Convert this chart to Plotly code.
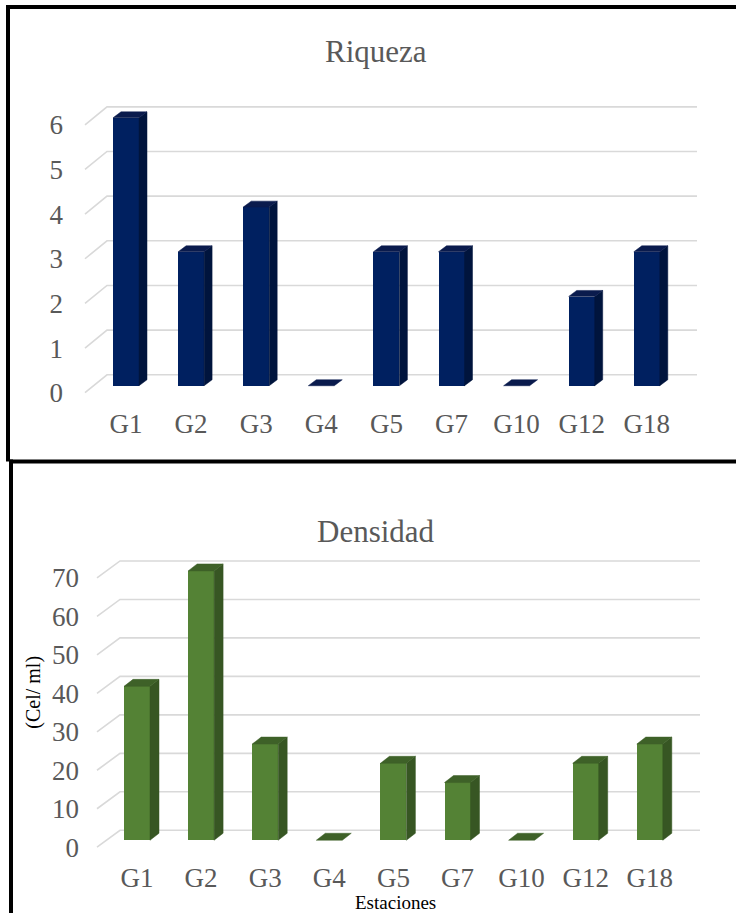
import plotly.graph_objects as go

categories = ["G1", "G2", "G3", "G4", "G5", "G7", "G10", "G12", "G18"]
riqueza = [6, 3, 4, 0, 3, 3, 0, 2, 3]
densidad = [40, 70, 25, 0, 20, 15, 0, 20, 25]
riqueza_ticks = [0, 1, 2, 3, 4, 5, 6]
densidad_ticks = [0, 10, 20, 30, 40, 50, 60, 70]

W, H = 736, 916
FONT = "Liberation Serif, Times New Roman, serif"
GREY = "#595959"

panels = [
    dict(values=riqueza, ticks=riqueza_ticks, xa="x", ya="y", xk="xaxis", yk="yaxis",
         x0=126, dxcat=65.1, y0=394, ppu=44.8, dom_x=(64, 736), dom_y=(80, 406),
         grid_left=85, grid_right=697, depth=(22, 18), bar_off=7, bar_w=26, topd=(8, 6),
         front="#002060", side="#00143d", topc="#0a1b4d"),
    dict(values=densidad, ticks=densidad_ticks, xa="x2", ya="y2", xk="xaxis2", yk="yaxis2",
         x0=137, dxcat=64.1, y0=850, ppu=3.86, dom_x=(80, 736), dom_y=(545, 862),
         grid_left=97, grid_right=700, depth=(23, 17), bar_off=7, bar_w=26, topd=(9, 7),
         front="#548235", side="#375623", topc="#3e6128"),
]

fig = go.Figure()
layout = {}
shapes = []

for p in panels:
    dxc, ppu = p["dxcat"], p["ppu"]
    # gridlines (floor diagonal + back wall), drawn below the traces
    fl = (p["grid_left"] - p["x0"]) / dxc
    bl = (p["grid_left"] + p["depth"][0] - p["x0"]) / dxc
    br = (p["grid_right"] - p["x0"]) / dxc
    ddy = p["depth"][1] / ppu
    for v in p["ticks"]:
        path = f"M {fl},{v} L {bl},{v + ddy} L {br},{v + ddy}"
        shapes.append(dict(type="path", path=path, xref=p["xa"], yref=p["ya"],
                           layer="below", line=dict(color="#d9d9d9", width=1.6)))
    base = p["bar_off"] / ppu
    hw = p["bar_w"] / dxc / 2
    tdx = p["topd"][0] / dxc
    tdy = p["topd"][1] / ppu
    # front faces
    fig.add_trace(go.Bar(x=list(range(len(categories))), y=p["values"], base=base,
                         width=2 * hw, marker=dict(color=p["front"], line=dict(width=0)),
                         xaxis=p["xa"], yaxis=p["ya"]))
    # side faces and top faces
    sx, sy, tx, ty = [], [], [], []
    for i, v in enumerate(p["values"]):
        xl, xr = i - hw, i + hw
        yb, yt = base, base + v
        if v > 0:
            sx += [xr, xr, xr + tdx, xr + tdx, xr, None]
            sy += [yb, yt, yt + tdy, yb + tdy, yb, None]
        tx += [xl, xr, xr + tdx, xl + tdx, xl, None]
        ty += [yt, yt, yt + tdy, yt + tdy, yt, None]
    fig.add_trace(go.Scatter(x=sx, y=sy, mode="lines", fill="toself", fillcolor=p["side"],
                             line=dict(color=p["side"], width=0.5),
                             xaxis=p["xa"], yaxis=p["ya"], hoverinfo="skip"))
    fig.add_trace(go.Scatter(x=tx, y=ty, mode="lines", fill="toself", fillcolor=p["topc"],
                             line=dict(color=p["topc"], width=0.5),
                             xaxis=p["xa"], yaxis=p["ya"], hoverinfo="skip"))

    layout[p["xk"]] = dict(
        domain=[p["dom_x"][0] / W, p["dom_x"][1] / W],
        range=[(p["dom_x"][0] - p["x0"]) / dxc, (p["dom_x"][1] - p["x0"]) / dxc],
        anchor=p["ya"], tickvals=list(range(len(categories))), ticktext=categories,
        showgrid=False, zeroline=False, showline=False, ticks="",
        tickfont=dict(family=FONT, size=27, color=GREY), fixedrange=True)
    layout[p["yk"]] = dict(
        domain=[1 - p["dom_y"][1] / H, 1 - p["dom_y"][0] / H],
        range=[(p["y0"] - p["dom_y"][1]) / ppu, (p["y0"] - p["dom_y"][0]) / ppu],
        anchor=p["xa"], tickvals=p["ticks"], showgrid=False, zeroline=False,
        showline=False, ticks="", tickfont=dict(family=FONT, size=27, color=GREY),
        fixedrange=True)

def px(x, y):
    return x / W, 1 - y / H

def line(x0, y0, x1, y1, w=4):
    a, b = px(x0, y0)
    c, d = px(x1, y1)
    return dict(type="line", xref="paper", yref="paper", x0=a, y0=b, x1=c, y1=d,
                line=dict(color="black", width=w))

shapes += [
    line(6, 7, 736, 7),
    line(8, 5, 8, 463, 4),
    line(9, 463, 736, 463),
    line(11, 461, 11, 916),
]

def ann(text, x, y, size, color, angle=0):
    a, b = px(x, y)
    return dict(text=text, x=a, y=b, xref="paper", yref="paper", showarrow=False,
                xanchor="center", yanchor="middle", textangle=angle,
                font=dict(family=FONT, size=size, color=color))

annotations = [
    ann("Riqueza", 376, 52, 31, GREY),
    ann("Densidad", 376, 533, 31, GREY),
    ann("(Cel/ ml)", 34, 695, 20, "black", -90),
    ann("Estaciones", 396, 905, 19, "black"),
]

fig.update_layout(width=W, height=H, margin=dict(l=0, r=0, t=0, b=0),
                  paper_bgcolor="white", plot_bgcolor="white", showlegend=False,
                  bargap=0, shapes=shapes, annotations=annotations, **layout)

fig.write_html("out.html", config={"displayModeBar": False})
